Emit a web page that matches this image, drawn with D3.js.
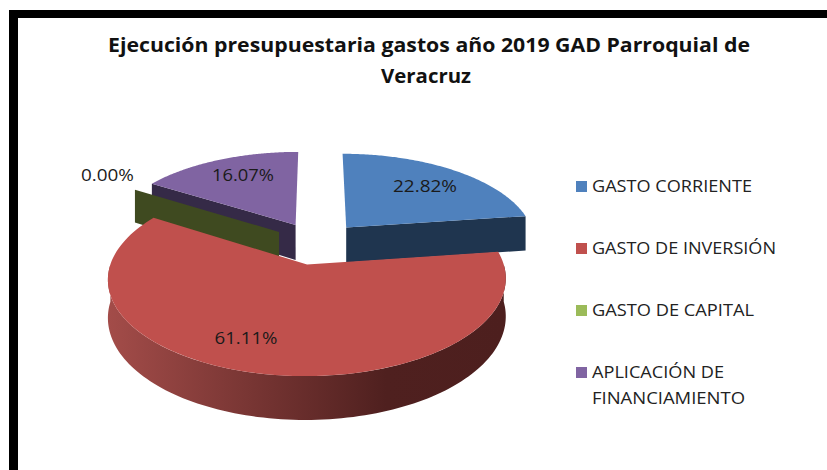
<!DOCTYPE html>
<html><head><meta charset="utf-8">
<script src="https://cdn.jsdelivr.net/npm/d3@7/dist/d3.min.js"></script>
<style>html,body{margin:0;padding:0;background:#fff}svg{display:block}text{font-family:"Open Sans","Noto Sans",sans-serif}</style>
</head><body><svg id="c" width="827" height="470"></svg>
<script>
const categories = ["GASTO CORRIENTE","GASTO DE INVERSIÓN","GASTO DE CAPITAL","APLICACIÓN DE FINANCIAMIENTO"];
const values = [22.82,61.11,0.00,16.07];
const labels = ["22.82%","61.11%","0.00%","16.07%"];
const topColors = ["#4f81bd","#c0504d","#9bbb59","#8064a2"];
const wallColors = ["#1f354f","#4d1f1e","#3f4a20","#352a47"];
const titleLines = ["Ejecución presupuestaria gastos año 2019 GAD Parroquial de","Veracruz"];
const legendLines = [["GASTO CORRIENTE"],["GASTO DE INVERSIÓN"],["GASTO DE CAPITAL"],["APLICACIÓN DE","FINANCIAMIENTO"]];
const legendWidths = [[160],[184],[162],[132,153]];

const svg = d3.select("#c");
svg.append("rect").attr("x",9).attr("y",10).attr("width",818).attr("height",8).attr("fill","#000");
svg.append("rect").attr("x",9).attr("y",10).attr("width",9).attr("height",460).attr("fill","#000");

svg.append("g").selectAll("text").data(titleLines).join("text")
  .attr("x",(d,i)=>i?426:429).attr("y",(d,i)=>52+i*31)
  .attr("text-anchor","middle").attr("font-size",20).attr("font-weight",700).attr("fill","#111")
  .attr("font-family","Open Sans").attr("textLength",(d,i)=>i?90:642).attr("lengthAdjust","spacingAndGlyphs").text(d=>d);

// perspective pie projection
const cx=317, cy=243, R=190, Ry=88.5, k=0.145, D=36, ex=0.24;
const pie = d3.pie().sort(null).value(d=>d).startAngle(0).endAngle(2*Math.PI);
const arcs = pie(values);
function proj(a,r,arc,z){
  const mid=(arc.startAngle+arc.endAngle)/2;
  const px=ex*Math.sin(mid)+r*Math.sin(a), py=ex*Math.cos(mid)+r*Math.cos(a);
  const s=1/(1+k*py);
  return [cx+R*px*s, cy-Ry*py*s+z*D*s];
}
const line=d3.line().curve(d3.curveLinear);
function sample(a0,a1){return d3.range(0,121).map(i=>a0+(a1-a0)*i/120);}
function topPath(arc){
  const pts=[proj(0,0,arc,0),...sample(arc.startAngle,arc.endAngle).map(a=>proj(a,1,arc,0))];
  return line(pts)+"Z";
}
function cutPath(arc,a){
  return line([proj(a,0,arc,0),proj(a,1,arc,0),proj(a,1,arc,1),proj(a,0,arc,1)])+"Z";
}
function wallPath(arc,a0,a1){
  const s=sample(a0,a1);
  return line([...s.map(a=>proj(a,1,arc,0)),...s.slice().reverse().map(a=>proj(a,1,arc,1))])+"Z";
}
const defs=svg.append("defs");
const wallScale=d3.scaleLinear().domain([0,0.7,1]).range(["#a34c49","#4f201f","#4d1f1e"]);
const grad=defs.append("linearGradient").attr("id","redWall").attr("gradientUnits","userSpaceOnUse")
  .attr("x1",108).attr("x2",505).attr("y1",0).attr("y2",0);
[0,0.35,0.7,1].forEach(t=>grad.append("stop").attr("offset",t).attr("stop-color",wallScale(t)));

const g=svg.append("g");
[3,2,0,1].forEach(i=>{
  const a=arcs[i];
  if(i===3){ g.append("path").attr("d",cutPath(a,a.startAngle)).attr("fill",wallColors[i]); }
  if(i===2){ g.append("path").attr("d",cutPath(a,a.startAngle)).attr("fill",wallColors[i]); return; }
  if(i===0){ g.append("path").attr("d",cutPath(a,a.endAngle)).attr("fill",wallColors[i]); }
  if(i===1){
    g.append("path").attr("d",wallPath(a,Math.PI/2,3*Math.PI/2)).attr("fill","url(#redWall)");
  }
  g.append("path").attr("d",topPath(a)).attr("fill",topColors[i]);
});

// data labels
const labelPos=[[425,186],[246,338],[107.5,175],[243,175]];
const labelWidths=[64,63,53,62];
svg.append("g").selectAll("text").data(labels).join("text")
  .attr("x",(d,i)=>labelPos[i][0]).attr("y",(d,i)=>labelPos[i][1]+6)
  .attr("text-anchor","middle").attr("font-size",17).attr("fill","#1a1a1a")
  .attr("font-family","Open Sans").attr("textLength",(d,i)=>labelWidths[i]).attr("lengthAdjust","spacingAndGlyphs").text(d=>d);

// legend
const legendY=d3.scalePoint().domain(categories).range([186,372]);
const lg=svg.append("g").selectAll("g").data(categories).join("g")
  .attr("transform",d=>`translate(576,${legendY(d)})`);
lg.append("rect").attr("x",0).attr("y",-5).attr("width",11).attr("height",11)
  .attr("fill",(d,i)=>topColors[i]);
lg.each(function(d,i){
  d3.select(this).selectAll("text").data(legendLines[i]).join("text")
    .attr("x",16).attr("y",(t,j)=>6+j*26).attr("font-size",16).attr("fill","#222")
    .attr("font-family","Open Sans").attr("textLength",(t,j)=>legendWidths[i][j])
    .attr("lengthAdjust","spacingAndGlyphs").text(t=>t);
});
</script></body></html>
